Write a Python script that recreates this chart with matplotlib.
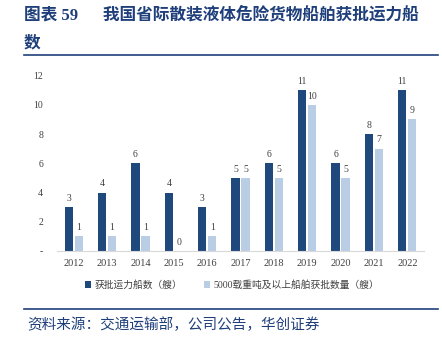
import matplotlib
matplotlib.use("Agg")
import matplotlib.pyplot as plt
from matplotlib.lines import Line2D
import numpy as np

plt.rcParams["font.family"] = ["Liberation Serif", "Noto Sans CJK SC", "DejaVu Sans"]

years = ["2012", "2013", "2014", "2015", "2016", "2017", "2018", "2019", "2020", "2021", "2022"]
approved = [3, 4, 6, 4, 3, 5, 6, 11, 6, 8, 11]
approved_5000 = [1, 1, 1, 0, 1, 5, 5, 10, 5, 7, 9]
series_names = ["获批运力船数（艘）", "5000载重吨及以上船舶获批数量（艘）"]
yticks = [0, 2, 4, 6, 8, 10, 12]
ytick_labels = ["-", "2", "4", "6", "8", "10", "12"]

title = "图表 59      我国省际散装液体危险货物船舶获批运力船\n数"
source = "资料来源：交通运输部，公司公告，华创证券"

DARK = "#1F497D"
LIGHT = "#B9CDE5"
TITLE_BLUE = "#1F3F7A"
W, H = 442, 341

fig = plt.figure(figsize=(W / 100, H / 100), dpi=100)
ax = fig.add_axes([57 / W, 1 - 251 / H, (424 - 57) / W, (251 - 75.5) / H])

x = np.arange(len(years))
b1 = ax.bar(x - 0.15, approved, width=0.25, color=DARK, label=series_names[0])
b2 = ax.bar(x + 0.15, approved_5000, width=0.25, color=LIGHT, label=series_names[1])
for bars in (b1, b2):
    ax.bar_label(bars, padding=3, fontsize=7, color="#404040", clip_on=False)

ax.set_xlim(-0.5, len(years) - 0.5)
ax.set_ylim(0, 12)
ax.set_xticks(x)
ax.set_xticklabels(years, fontsize=7.5, color="#404040")
ax.set_yticks(yticks)
ax.set_yticklabels(ytick_labels, fontsize=7, color="#404040")
ax.tick_params(length=0)
ax.tick_params(axis="y", pad=10)
ax.tick_params(axis="x", pad=6)
for side in ("top", "right", "left"):
    ax.spines[side].set_visible(False)
ax.spines["bottom"].set_color("#D9D9D9")
ax.spines["bottom"].set_linewidth(0.8)

fig.legend(handles=[b1, b2], loc="center", bbox_to_anchor=(232 / W, 1 - 285 / H),
           ncol=2, frameon=False, fontsize=7, handlelength=0.6, handleheight=0.6,
           handletextpad=0.4, columnspacing=2.2, labelcolor="#404040")

fig.text(24 / W, 1 - 7 / H, title, fontsize=12, fontweight="bold", color=TITLE_BLUE,
         va="top", ha="left", linespacing=1.95)
fig.text(27 / W, 1 - 325 / H, source, fontsize=10.5, color=TITLE_BLUE, va="center", ha="left")

for yy in (55, 309):
    fig.add_artist(Line2D([24 / W, 438 / W], [1 - yy / H, 1 - yy / H],
                          transform=fig.transFigure, color=TITLE_BLUE, linewidth=1.2))

fig.savefig("out.png", dpi=100)
